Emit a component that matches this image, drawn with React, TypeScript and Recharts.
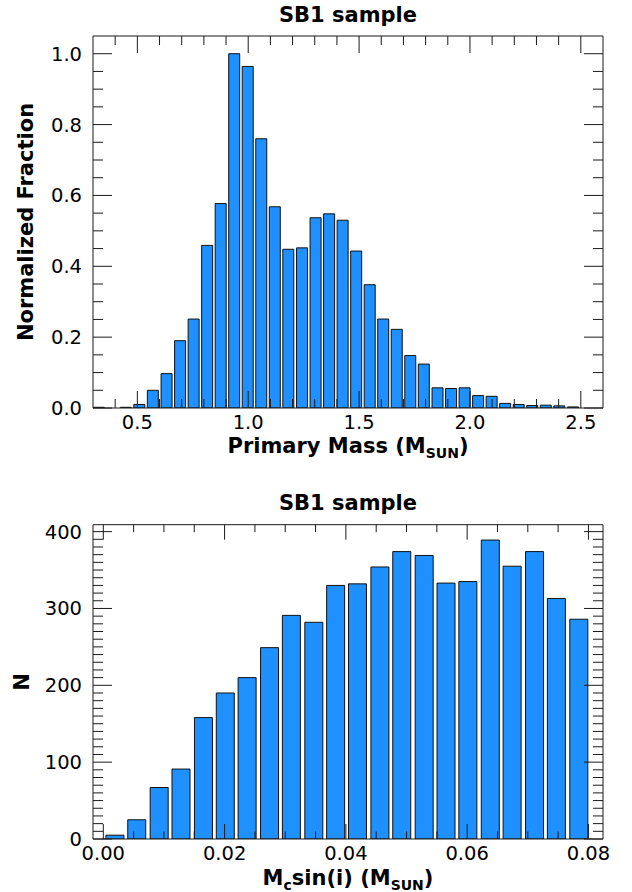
import { BarChart, Bar, XAxis, YAxis } from "recharts";

const FONT = "DejaVu Sans";
const INK = "#1a1a1a";
const BAR_BLUE = "#1e90ff";

// top panel: primary mass histogram (normalized)
const massBins = [
  0.327, 0.388, 0.449, 0.51, 0.571, 0.633, 0.694, 0.755, 0.816, 0.877, 0.938, 0.999,
  1.06, 1.121, 1.182, 1.244, 1.305, 1.366, 1.427, 1.488, 1.549, 1.61, 1.671, 1.732,
  1.793, 1.855, 1.916, 1.977, 2.038, 2.099, 2.16, 2.221, 2.282, 2.343, 2.404, 2.466,
];
const massFraction = [
  0.002, 0, 0.002, 0.01, 0.05, 0.097, 0.19, 0.251, 0.459, 0.577, 1.0, 0.964,
  0.76, 0.568, 0.448, 0.452, 0.537, 0.548, 0.53, 0.443, 0.348, 0.251, 0.222, 0.148,
  0.124, 0.057, 0.055, 0.057, 0.035, 0.033, 0.013, 0.01, 0.007, 0.008, 0.006, 0.003,
];
const massTicks = [0.5, 1.0, 1.5, 2.0, 2.5];
const massMinorTicks = [0.4, 0.6, 0.7, 0.8, 0.9, 1.1, 1.2, 1.3, 1.4, 1.6, 1.7, 1.8, 1.9, 2.1, 2.2, 2.3, 2.4];
const fractionTicks = [0, 0.2, 0.4, 0.6, 0.8, 1.0];
const fractionMinorTicks = [0.05, 0.1, 0.15, 0.25, 0.3, 0.35, 0.45, 0.5, 0.55, 0.65, 0.7, 0.75, 0.85, 0.9, 0.95];

// bottom panel: Mc sin(i) counts
const msiniBins = [
  0.0019, 0.0055, 0.0092, 0.0128, 0.0165, 0.0201, 0.0237, 0.0274, 0.031, 0.0347, 0.0383,
  0.0419, 0.0456, 0.0492, 0.0529, 0.0565, 0.0601, 0.0638, 0.0674, 0.0711, 0.0747, 0.0784,
];
const msiniCounts = [
  5, 25, 67, 91, 158, 190, 210, 249, 291, 282, 330,
  332, 354, 374, 369, 333, 335, 389, 355, 374, 313, 286,
];
const msiniTicks = [0, 0.02, 0.04, 0.06, 0.08];
const msiniMinorTicks = [0.005, 0.01, 0.015, 0.025, 0.03, 0.035, 0.045, 0.05, 0.055, 0.065, 0.07, 0.075];
const countTicks = [0, 100, 200, 300, 400];
const countMinorTicks = [
  10, 20, 30, 40, 50, 60, 70, 80, 90, 110, 120, 130, 140, 150, 160, 170, 180, 190,
  210, 220, 230, 240, 250, 260, 270, 280, 290, 310, 320, 330, 340, 350, 360, 370, 380, 390,
];

const massRows = massBins.map((m, i) => ({ mass: m, fraction: massFraction[i] }));
const msiniRows = msiniBins.map((m, i) => ({ msini: m, count: msiniCounts[i] }));

type Side = "bottom" | "top" | "left" | "right";

// inward IDL-style ticks, labels only on the bottom / left majors
function axisTick(side: Side, majors: number[], majorLen: number, minorLen: number, fmt: (v: number) => string) {
  return (props: any) => {
    const { x, y, payload } = props;
    const v = payload.value;
    const isMajor = majors.some((m) => Math.abs(m - v) < 1e-9);
    const len = isMajor ? majorLen : minorLen;
    let line = null;
    let text = null;
    if (side === "bottom") {
      line = <line x1={x} x2={x} y1={y} y2={y - len} />;
      if (isMajor)
        text = (
          <text x={x} y={y + 21} textAnchor="middle" fill="#000" stroke="none" fontSize={19.5} fontFamily={FONT}>
            {fmt(v)}
          </text>
        );
    } else if (side === "top") {
      line = <line x1={x} x2={x} y1={y} y2={y + len} />;
    } else if (side === "left") {
      line = <line x1={x} x2={x + len} y1={y} y2={y} />;
      if (isMajor)
        text = (
          <text x={x - 11} y={y + 7} textAnchor="end" fill="#000" stroke="none" fontSize={19.5} fontFamily={FONT}>
            {fmt(v)}
          </text>
        );
    } else {
      line = <line x1={x} x2={x - len} y1={y} y2={y} />;
    }
    return (
      <g stroke={INK} strokeWidth={1}>
        {line}
        {text}
      </g>
    );
  };
}

const boldText = { fontFamily: FONT, fontWeight: 700, fontSize: 21, fill: "#000" };

function titleLabel(props: any) {
  const { x, y, width, height } = props.viewBox;
  return (
    <text x={x + width / 2} y={y + height - 14.3} textAnchor="middle" style={boldText}>
      SB1 sample
    </text>
  );
}

function yLabel(text: string, baseX: number) {
  return (props: any) => {
    const { y, height } = props.viewBox;
    const cy = y + height / 2;
    return (
      <text x={baseX} y={cy} transform={`rotate(-90, ${baseX}, ${cy})`} textAnchor="middle" style={boldText}>
        {text}
      </text>
    );
  };
}

function massXLabel(props: any) {
  const { x, y, width } = props.viewBox;
  return (
    <text x={x + width / 2} y={y + 45} textAnchor="middle" style={boldText}>
      Primary Mass (M
      <tspan dy={5} fontSize={14}>SUN</tspan>
      <tspan dy={-5}>)</tspan>
    </text>
  );
}

function msiniXLabel(props: any) {
  const { x, y, width } = props.viewBox;
  return (
    <text x={x + width / 2} y={y + 46} textAnchor="middle" style={boldText}>
      M
      <tspan dy={5} fontSize={14}>c</tspan>
      <tspan dy={-5}>sin(i) (M</tspan>
      <tspan dy={5} fontSize={14}>SUN</tspan>
      <tspan dy={-5}>)</tspan>
    </text>
  );
}

const frame = { stroke: INK, strokeWidth: 1 };

export default function App() {
  const massAll = [...massTicks, ...massMinorTicks];
  const fracAll = [...fractionTicks, ...fractionMinorTicks];
  const msiniAll = [...msiniTicks, ...msiniMinorTicks];
  const countAll = [...countTicks, ...countMinorTicks];

  return (
    <div style={{ position: "absolute", left: 0, top: 0, width: 632, height: 892, background: "#fff" }}>
      <div style={{ position: "absolute", left: 0, top: 0 }}>
        <BarChart width={632} height={470} data={massRows} margin={{ top: 35, right: 28, bottom: 0, left: 0 }}>
          <Bar
            dataKey="fraction"
            xAxisId="b"
            yAxisId="l"
            fill={BAR_BLUE}
            stroke="#111"
            strokeWidth={1}
            barSize={11}
            isAnimationActive={false}
          />
          <XAxis
            xAxisId="b"
            dataKey="mass"
            type="number"
            domain={[0.3, 2.6]}
            allowDataOverflow
            ticks={massAll}
            interval={0}
            height={62}
            tickSize={0}
            tickMargin={0}
            tickLine={false}
            axisLine={frame}
            tick={axisTick("bottom", massTicks, 17, 9, (v) => v.toFixed(1))}
            label={massXLabel}
          />
          <XAxis
            xAxisId="t"
            dataKey="mass"
            orientation="top"
            type="number"
            domain={[0.3, 2.6]}
            allowDataOverflow
            ticks={massAll}
            interval={0}
            height={1}
            tickSize={0}
            tickMargin={0}
            tickLine={false}
            axisLine={frame}
            tick={axisTick("top", massTicks, 17, 9, (v) => v.toFixed(1))}
            label={titleLabel}
          />
          <YAxis
            yAxisId="l"
            type="number"
            domain={[0, 1.05]}
            allowDataOverflow
            ticks={fracAll}
            interval={0}
            width={93}
            tickSize={0}
            tickMargin={0}
            tickLine={false}
            axisLine={frame}
            tick={axisTick("left", fractionTicks, 19, 10, (v) => v.toFixed(1))}
            label={yLabel("Normalized Fraction", 33)}
          />
          <YAxis
            yAxisId="r"
            orientation="right"
            type="number"
            domain={[0, 1.05]}
            allowDataOverflow
            ticks={fracAll}
            interval={0}
            width={1}
            tickSize={0}
            tickMargin={0}
            tickLine={false}
            axisLine={frame}
            tick={axisTick("right", fractionTicks, 19, 10, (v) => v.toFixed(1))}
          />
        </BarChart>
      </div>

      <div style={{ position: "absolute", left: 0, top: 470 }}>
        <BarChart width={632} height={422} data={msiniRows} margin={{ top: 53.7, right: 28, bottom: 0, left: 0 }}>
          <Bar
            dataKey="count"
            xAxisId="b"
            yAxisId="l"
            fill={BAR_BLUE}
            stroke="#111"
            strokeWidth={1}
            barSize={18}
            isAnimationActive={false}
          />
          <XAxis
            xAxisId="b"
            dataKey="msini"
            type="number"
            domain={[-0.0017, 0.0824]}
            allowDataOverflow
            ticks={msiniAll}
            interval={0}
            height={53}
            tickSize={0}
            tickMargin={0}
            tickLine={false}
            axisLine={frame}
            tick={axisTick("bottom", msiniTicks, 15, 7.5, (v) => v.toFixed(2))}
            label={msiniXLabel}
          />
          <XAxis
            xAxisId="t"
            dataKey="msini"
            orientation="top"
            type="number"
            domain={[-0.0017, 0.0824]}
            allowDataOverflow
            ticks={msiniAll}
            interval={0}
            height={1}
            tickSize={0}
            tickMargin={0}
            tickLine={false}
            axisLine={frame}
            tick={axisTick("top", msiniTicks, 15, 7.5, (v) => v.toFixed(2))}
            label={titleLabel}
          />
          <YAxis
            yAxisId="l"
            type="number"
            domain={[0, 409]}
            allowDataOverflow
            ticks={countAll}
            interval={0}
            width={93}
            tickSize={0}
            tickMargin={0}
            tickLine={false}
            axisLine={frame}
            tick={axisTick("left", countTicks, 19, 10, (v) => String(v))}
            label={yLabel("N", 29.5)}
          />
          <YAxis
            yAxisId="r"
            orientation="right"
            type="number"
            domain={[0, 409]}
            allowDataOverflow
            ticks={countAll}
            interval={0}
            width={1}
            tickSize={0}
            tickMargin={0}
            tickLine={false}
            axisLine={frame}
            tick={axisTick("right", countTicks, 19, 10, (v) => String(v))}
          />
        </BarChart>
      </div>
    </div>
  );
}
